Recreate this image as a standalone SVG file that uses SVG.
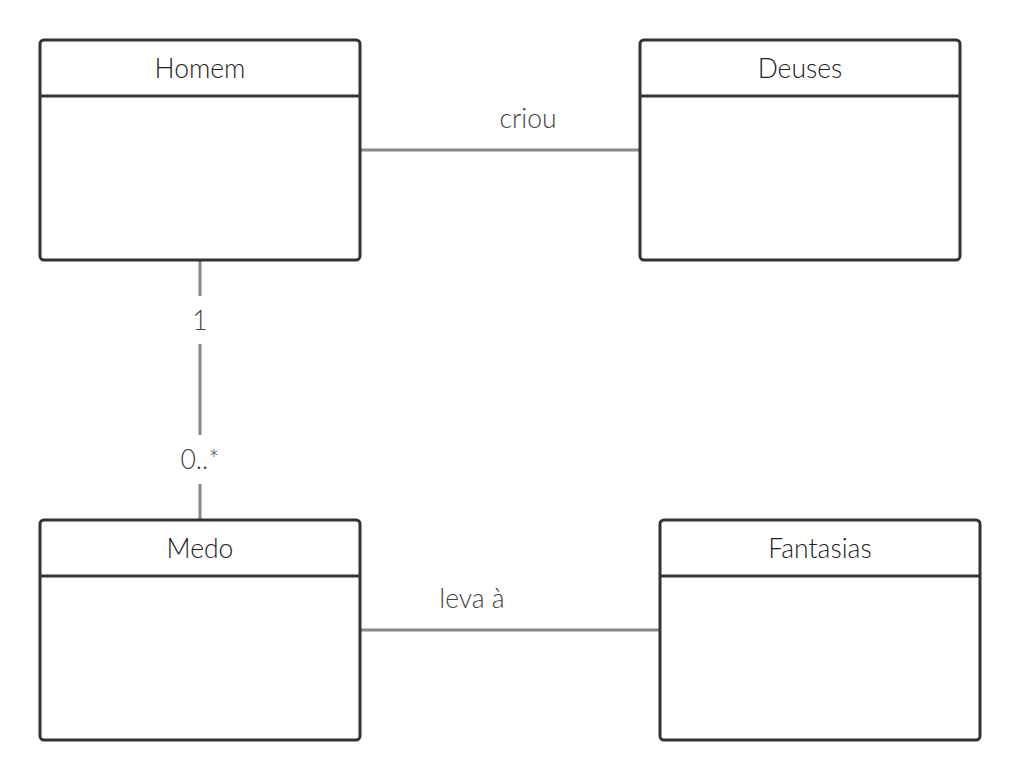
<svg xmlns="http://www.w3.org/2000/svg" width="1020" height="780" viewBox="0 0 1020 780">
<style>
.box{fill:#fff;stroke:#333;stroke-width:3}
.hdr{stroke:#333;stroke-width:3}
.t{font-family:Lato,"Liberation Sans",sans-serif;font-size:26.5px;font-weight:300;fill:#222;text-anchor:middle}
.lbl{font-family:Lato,"Liberation Sans",sans-serif;font-size:26.5px;font-weight:300;fill:#444;text-anchor:middle}
.c{stroke:#888;stroke-width:3;fill:none}
</style>
<rect width="1020" height="780" fill="#fff"/>
<g id="connectors">
<line class="c" x1="360" y1="150" x2="640" y2="150"/>
<text class="lbl" x="528" y="128">criou</text>
<line class="c" x1="360" y1="630" x2="660" y2="630"/>
<text class="lbl" x="472" y="608">leva à</text>
<line class="c" x1="200" y1="260" x2="200" y2="296"/>
<line class="c" x1="200" y1="344" x2="200" y2="435"/>
<line class="c" x1="200" y1="484" x2="200" y2="520"/>
<text class="lbl" x="200" y="330">1</text>
<text class="lbl" x="200" y="469">0..*</text>
</g>
<g id="homem">
<rect class="box" x="40" y="40" width="320" height="220" rx="4"/>
<line class="hdr" x1="40" y1="96" x2="360" y2="96"/>
<text class="t" x="200" y="78">Homem</text>
</g>
<g id="deuses">
<rect class="box" x="640" y="40" width="320" height="220" rx="4"/>
<line class="hdr" x1="640" y1="96" x2="960" y2="96"/>
<text class="t" x="800" y="78">Deuses</text>
</g>
<g id="medo">
<rect class="box" x="40" y="520" width="320" height="220" rx="4"/>
<line class="hdr" x1="40" y1="576" x2="360" y2="576"/>
<text class="t" x="200" y="558">Medo</text>
</g>
<g id="fantasias">
<rect class="box" x="660" y="520" width="320" height="220" rx="4"/>
<line class="hdr" x1="660" y1="576" x2="980" y2="576"/>
<text class="t" x="820" y="558">Fantasias</text>
</g>
</svg>
